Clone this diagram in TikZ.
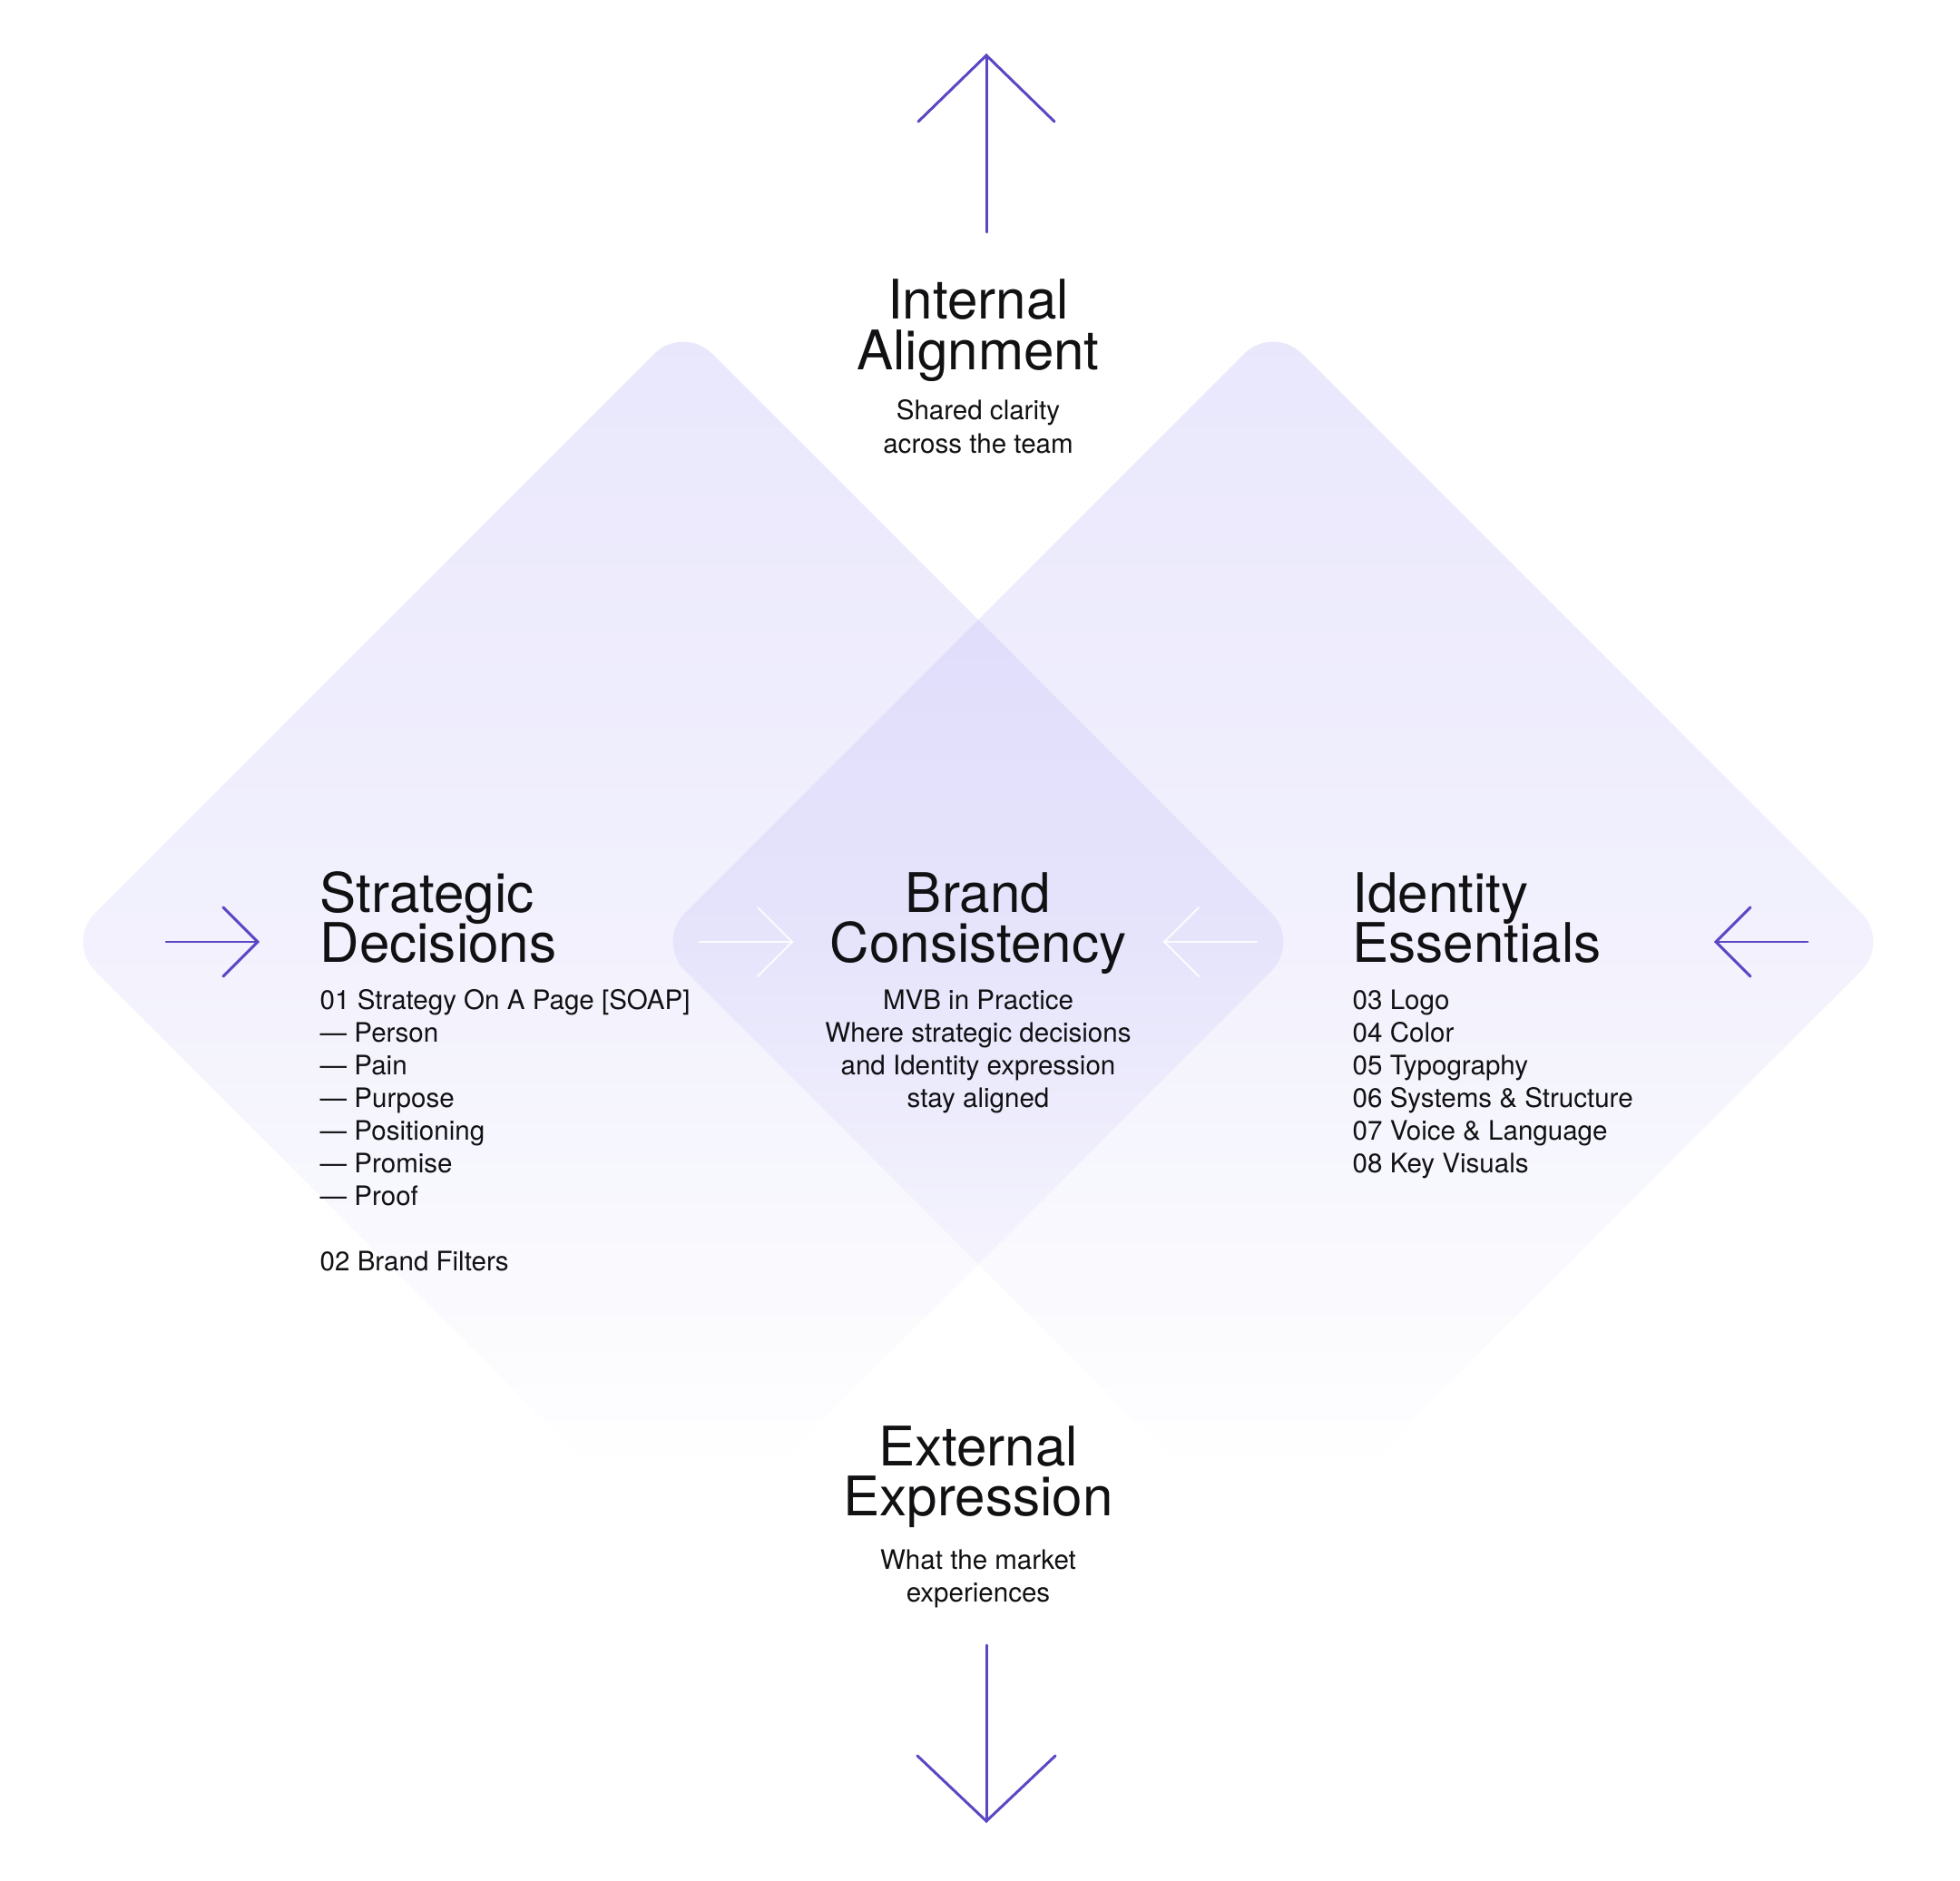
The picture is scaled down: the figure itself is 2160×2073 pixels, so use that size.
\documentclass[tikz,border=0pt]{standalone}
\usepackage{fontspec}
\setmainfont{TeX Gyre Heros}
\definecolor{arrowpurple}{RGB}{92,70,196}
\definecolor{inktext}{RGB}{17,17,20}
\definecolor{singletop}{RGB}{233,231,252}
\definecolor{singlemid}{RGB}{242,241,253}
\definecolor{singlelow}{RGB}{249,249,254}
\definecolor{doubletop}{RGB}{219,216,250}
\definecolor{doublemid}{RGB}{230,228,251}
\definecolor{doublelow}{RGB}{244,243,253}
\pgfdeclareverticalshading{singlefade}{100bp}{color(0bp)=(white); color(28.5bp)=(white); color(37bp)=(singlelow); color(50bp)=(singlemid); color(75bp)=(singletop); color(100bp)=(singletop)}
\pgfdeclareverticalshading{doublefade}{100bp}{color(0bp)=(white); color(28.5bp)=(white); color(37bp)=(doublelow); color(50bp)=(doublemid); color(75bp)=(doubletop); color(100bp)=(doubletop)}
\newcommand{\centerlines}[1]{\vtop{\halign{\hfil##\hfil\cr#1\crcr}}}
\newcommand{\leftlines}[1]{\vtop{\halign{##\hfil\cr#1\crcr}}}
\tikzset{
  headfont/.style={font={\fontsize{17.1pt}{15.8pt}\selectfont\lineskiplimit=-50pt}},
  bodyfont/.style={font={\fontsize{8.4pt}{10.24pt}\selectfont\lineskiplimit=-50pt}},
  txt/.style={inner sep=0pt, text=inktext},
  purplearrow/.style={draw=arrowpurple, line width=0.85pt, line cap=round, line join=miter},
  whitearrow/.style={draw=white, draw opacity=0.85, line width=0.6pt, line cap=round, line join=miter},
  diamondshape/.style={rounded corners=0.45cm},
}
\begin{document}
\begin{tikzpicture}[x=0.01cm, y=-0.01cm]
\fill[white] (0,0) rectangle (2160,2073);
\useasboundingbox (0,0) rectangle (2160,2073);
% diamonds
\shade[diamondshape, shading=singlefade]
  (753,358) -- (1433,1038) -- (753,1718) -- (73,1038) -- cycle;
\shade[diamondshape, shading=singlefade]
  (1403,358) -- (2083,1038) -- (1403,1718) -- (723,1038) -- cycle;
\begin{scope}
  \clip[diamondshape] (753,358) -- (1433,1038) -- (753,1718) -- (73,1038) -- cycle;
  \shade[diamondshape, shading=doublefade]
    (1403,358) -- (2083,1038) -- (1403,1718) -- (723,1038) -- cycle;
\end{scope}
% arrows
\coordinate (upTail) at (1087,256); \coordinate (upTip) at (1087,61);
\coordinate (upL) at (1012,134); \coordinate (upR) at (1162,134);
\draw[purplearrow] (upTail) -- (upTip);
\draw[purplearrow] (upL) -- (upTip) -- (upR);
\coordinate (dnTail) at (1087,1813); \coordinate (dnTip) at (1087,2007);
\coordinate (dnL) at (1011,1935); \coordinate (dnR) at (1163,1935);
\draw[purplearrow] (dnTail) -- (dnTip);
\draw[purplearrow] (dnL) -- (dnTip) -- (dnR);
\coordinate (lfTail) at (183,1038); \coordinate (lfTip) at (284,1038);
\coordinate (lfU) at (246,1000); \coordinate (lfD) at (246,1076);
\draw[purplearrow] (lfTail) -- (lfTip);
\draw[purplearrow] (lfU) -- (lfTip) -- (lfD);
\coordinate (rtTail) at (1992,1038); \coordinate (rtTip) at (1891,1038);
\coordinate (rtU) at (1929,1000); \coordinate (rtD) at (1929,1076);
\draw[purplearrow] (rtTail) -- (rtTip);
\draw[purplearrow] (rtU) -- (rtTip) -- (rtD);
\coordinate (wlTail) at (771,1038); \coordinate (wlTip) at (873,1038);
\coordinate (wlU) at (835,1000); \coordinate (wlD) at (835,1076);
\draw[whitearrow] (wlTail) -- (wlTip);
\draw[whitearrow] (wlU) -- (wlTip) -- (wlD);
\coordinate (wrTail) at (1385,1038); \coordinate (wrTip) at (1283,1038);
\coordinate (wrU) at (1321,1000); \coordinate (wrD) at (1321,1076);
\draw[whitearrow] (wrTail) -- (wrTip);
\draw[whitearrow] (wrU) -- (wrTip) -- (wrD);
% texts
\node[txt, headfont, anchor=base] (ia) at (1078,352) {\centerlines{Internal\cr Alignment}};
\node[txt, bodyfont, anchor=base] (iasub) at (1078,463) {\centerlines{Shared clarity\cr across the team}};
\node[txt, headfont, anchor=base west] (sd) at (352,1005) {\leftlines{Strategic\cr Decisions}};
\node[txt, bodyfont, anchor=base west] (sdlist) at (352,1112) {\leftlines{01 Strategy On A Page [SOAP]\cr — Person\cr — Pain\cr — Purpose\cr — Positioning\cr — Promise\cr — Proof\cr\cr 02 Brand Filters}};
\node[txt, headfont, anchor=base] (bc) at (1078,1005) {\centerlines{Brand\cr Consistency}};
\node[txt, bodyfont, anchor=base] (bcsub) at (1078,1112) {\centerlines{MVB in Practice\cr Where strategic decisions\cr and Identity expression\cr stay aligned}};
\node[txt, headfont, anchor=base west] (ie) at (1490,1005) {\leftlines{Identity\cr Essentials}};
\node[txt, bodyfont, anchor=base west] (ielist) at (1490,1112) {\leftlines{03 Logo\cr 04 Color\cr 05 Typography\cr 06 Systems \& Structure\cr 07 Voice \& Language\cr 08 Key Visuals}};
\node[txt, headfont, anchor=base] (ee) at (1078,1615) {\centerlines{External\cr Expression}};
\node[txt, bodyfont, anchor=base] (eesub) at (1078,1729) {\centerlines{What the market\cr experiences}};
\end{tikzpicture}
\end{document}
